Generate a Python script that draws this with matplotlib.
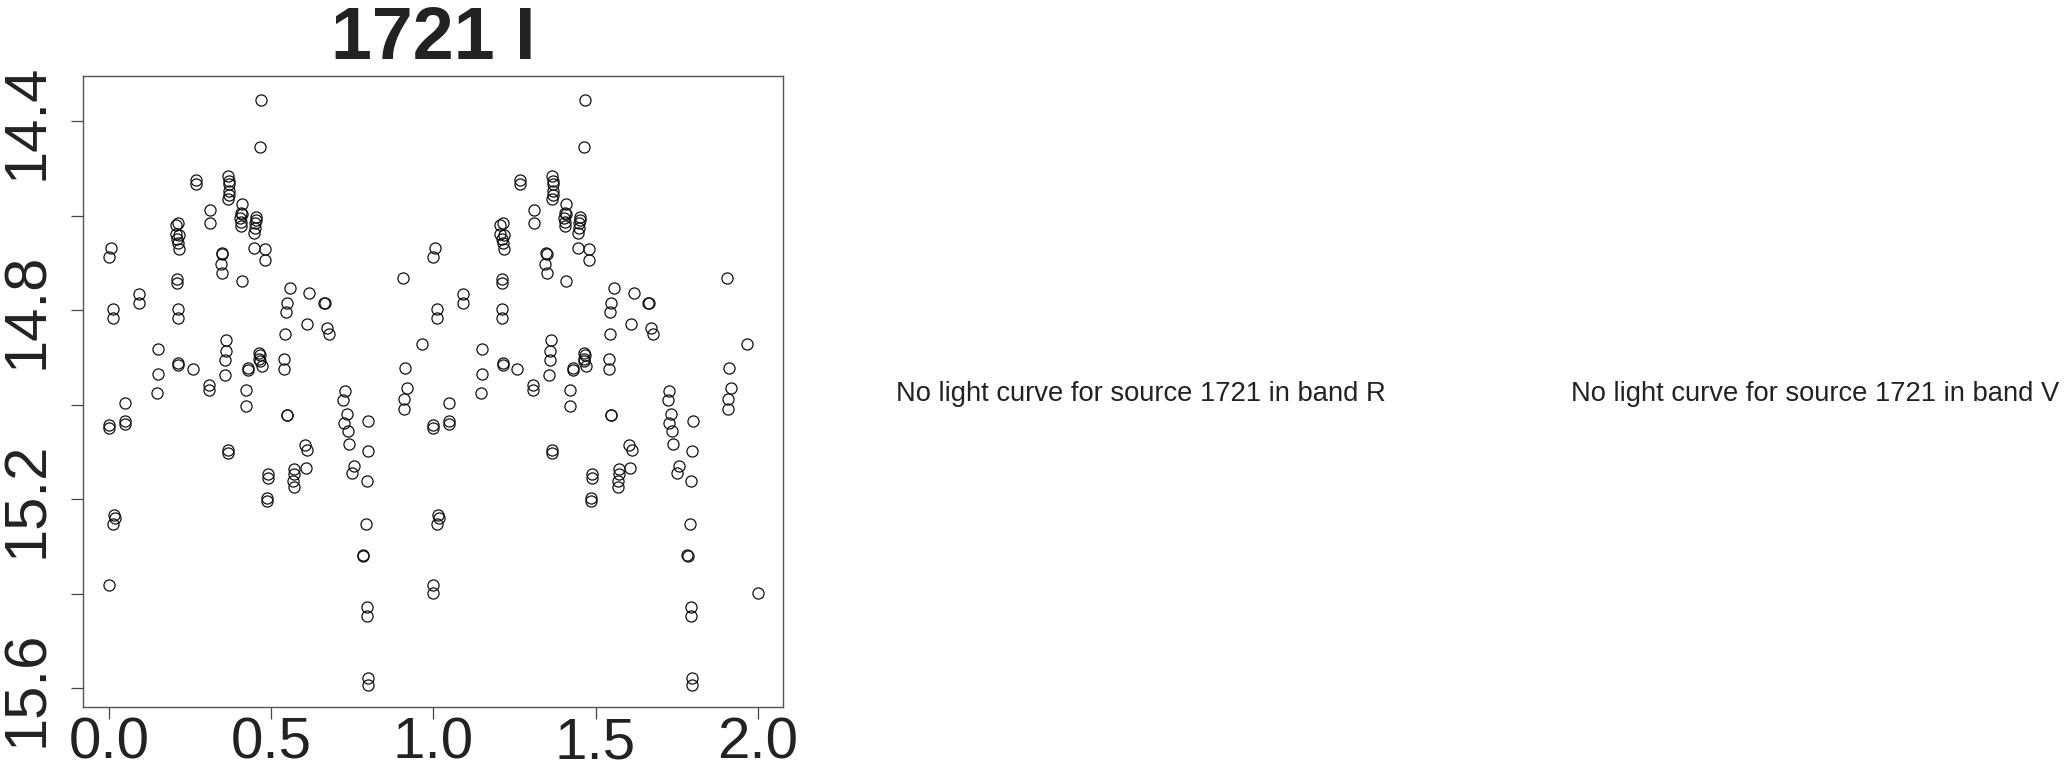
import numpy as np
import matplotlib
matplotlib.use("Agg")
import matplotlib.pyplot as plt

plt.rcParams['font.family'] = ['Liberation Sans', 'DejaVu Sans']

title = "1721 I"
msg_r = "No light curve for source 1721 in band R"
msg_v = "No light curve for source 1721 in band V"

# folded phase and I magnitude (one cycle; drawn twice)
phase = [0.468, 0.465, 0.267, 0.267, 0.367, 0.369, 0.369, 0.369, 0.369, 0.367,
         0.408, 0.406, 0.408, 0.403, 0.406, 0.405, 0.452, 0.452, 0.450, 0.449,
         0.447, 0.310, 0.310, 0.206, 0.213, 0.206, 0.216, 0.210, 0.213, 0.216,
         0.005, 0.000, 0.447, 0.480, 0.480, 0.347, 0.349, 0.345, 0.349, 0.410,
         0.210, 0.210, 0.905, 0.557, 0.617, 0.547, 0.545, 0.663, 0.666, 0.092,
         0.092, 0.012, 0.012, 0.211, 0.211, 0.609, 0.672, 0.677, 0.543, 0.361,
         0.359, 0.358, 0.357, 0.966, 0.151, 0.463, 0.466, 0.463, 0.465, 0.470,
         0.540, 0.540, 0.213, 0.213, 0.259, 0.429, 0.429, 0.149, 0.912, 0.308,
         0.308, 0.422, 0.146, 0.727, 0.917, 0.909, 0.909, 0.422, 0.722, 0.048,
         0.547, 0.548, 0.732, 0.725, 0.737, 0.738, 0.799, 0.000, 0.000, 0.048,
         0.048, 0.367, 0.367, 0.604, 0.611, 0.607, 0.488, 0.488, 0.571, 0.571,
         0.568, 0.570, 0.756, 0.750, 0.797, 0.794, 0.486, 0.486, 0.014, 0.017,
         0.012, 0.792, 0.783, 0.784, 0.000, 1.000, 0.794, 0.794, 0.797, 0.797]
mag = [14.355, 14.455, 14.524, 14.533, 14.515, 14.527, 14.533, 14.547, 14.555, 14.564,
       14.575, 14.593, 14.596, 14.605, 14.612, 14.621, 14.602, 14.609, 14.616, 14.625,
       14.636, 14.588, 14.614, 14.619, 14.616, 14.638, 14.641, 14.648, 14.657, 14.671,
       14.667, 14.688, 14.667, 14.669, 14.694, 14.679, 14.681, 14.702, 14.720, 14.737,
       14.734, 14.743, 14.731, 14.752, 14.763, 14.785, 14.803, 14.784, 14.784, 14.766,
       14.785, 14.797, 14.816, 14.797, 14.816, 14.828, 14.837, 14.850, 14.850, 14.863,
       14.886, 14.905, 14.936, 14.872, 14.882, 14.890, 14.895, 14.903, 14.908, 14.917,
       14.902, 14.924, 14.912, 14.916, 14.923, 14.921, 14.926, 14.934, 14.921, 14.958,
       14.969, 14.969, 14.974, 14.971, 14.964, 14.987, 15.008, 15.002, 14.989, 14.996,
       15.021, 15.022, 15.019, 15.039, 15.055, 15.082, 15.035, 15.042, 15.048, 15.035,
       15.041, 15.095, 15.102, 15.085, 15.096, 15.133, 15.146, 15.155, 15.135, 15.147,
       15.160, 15.174, 15.130, 15.145, 15.097, 15.161, 15.197, 15.203, 15.234, 15.240,
       15.251, 15.251, 15.318, 15.319, 15.382, 15.398, 15.427, 15.447, 15.577, 15.592]

xticks = [0.0, 0.5, 1.0, 1.5, 2.0]
xlabels = ["0.0", "0.5", "1.0", "1.5", "2.0"]
yticks = [14.4, 14.6, 14.8, 15.0, 15.2, 15.4, 15.6]
ylabels = ["14.4", "", "14.8", "", "15.2", "", "15.6"]

ph = np.array(phase)
mg = np.array(mag)

fig = plt.figure(figsize=(20.64, 7.65), dpi=100)
ax = fig.add_axes([0.0404, 0.0754, 0.3391, 0.8252])

ax.plot(np.concatenate([ph, ph + 1]), np.concatenate([mg, mg]), 'o',
        mfc='none', mec='#111111', ms=8, mew=0.9, ls='none')

ax.set_xlim(-0.080, 2.079)
ax.set_ylim(15.640, 14.304)

ax.set_xticks(xticks)
ax.set_xticklabels(xlabels, fontsize=42, color='#222222')
ax.set_yticks(yticks)
ax.set_yticklabels(ylabels, fontsize=43, color='#222222', rotation=90, va='center')
ax.tick_params(axis='both', length=8.5, width=0.9, color='#444444')
ax.tick_params(axis='x', pad=-2)
ax.tick_params(axis='y', pad=12)
for s in ax.spines.values():
    s.set_color('#555555')
    s.set_linewidth(1.0)

ax.set_title(title, fontsize=53, fontweight='bold', color='#222222', pad=12)

fig.text(1140.5 / 2064, 1 - 394 / 765, msg_r, fontsize=19.7, ha='center', va='center', color='#222222')
fig.text(1815 / 2064, 1 - 394 / 765, msg_v, fontsize=19.7, ha='center', va='center', color='#222222')

fig.savefig("out.png", dpi=100)
